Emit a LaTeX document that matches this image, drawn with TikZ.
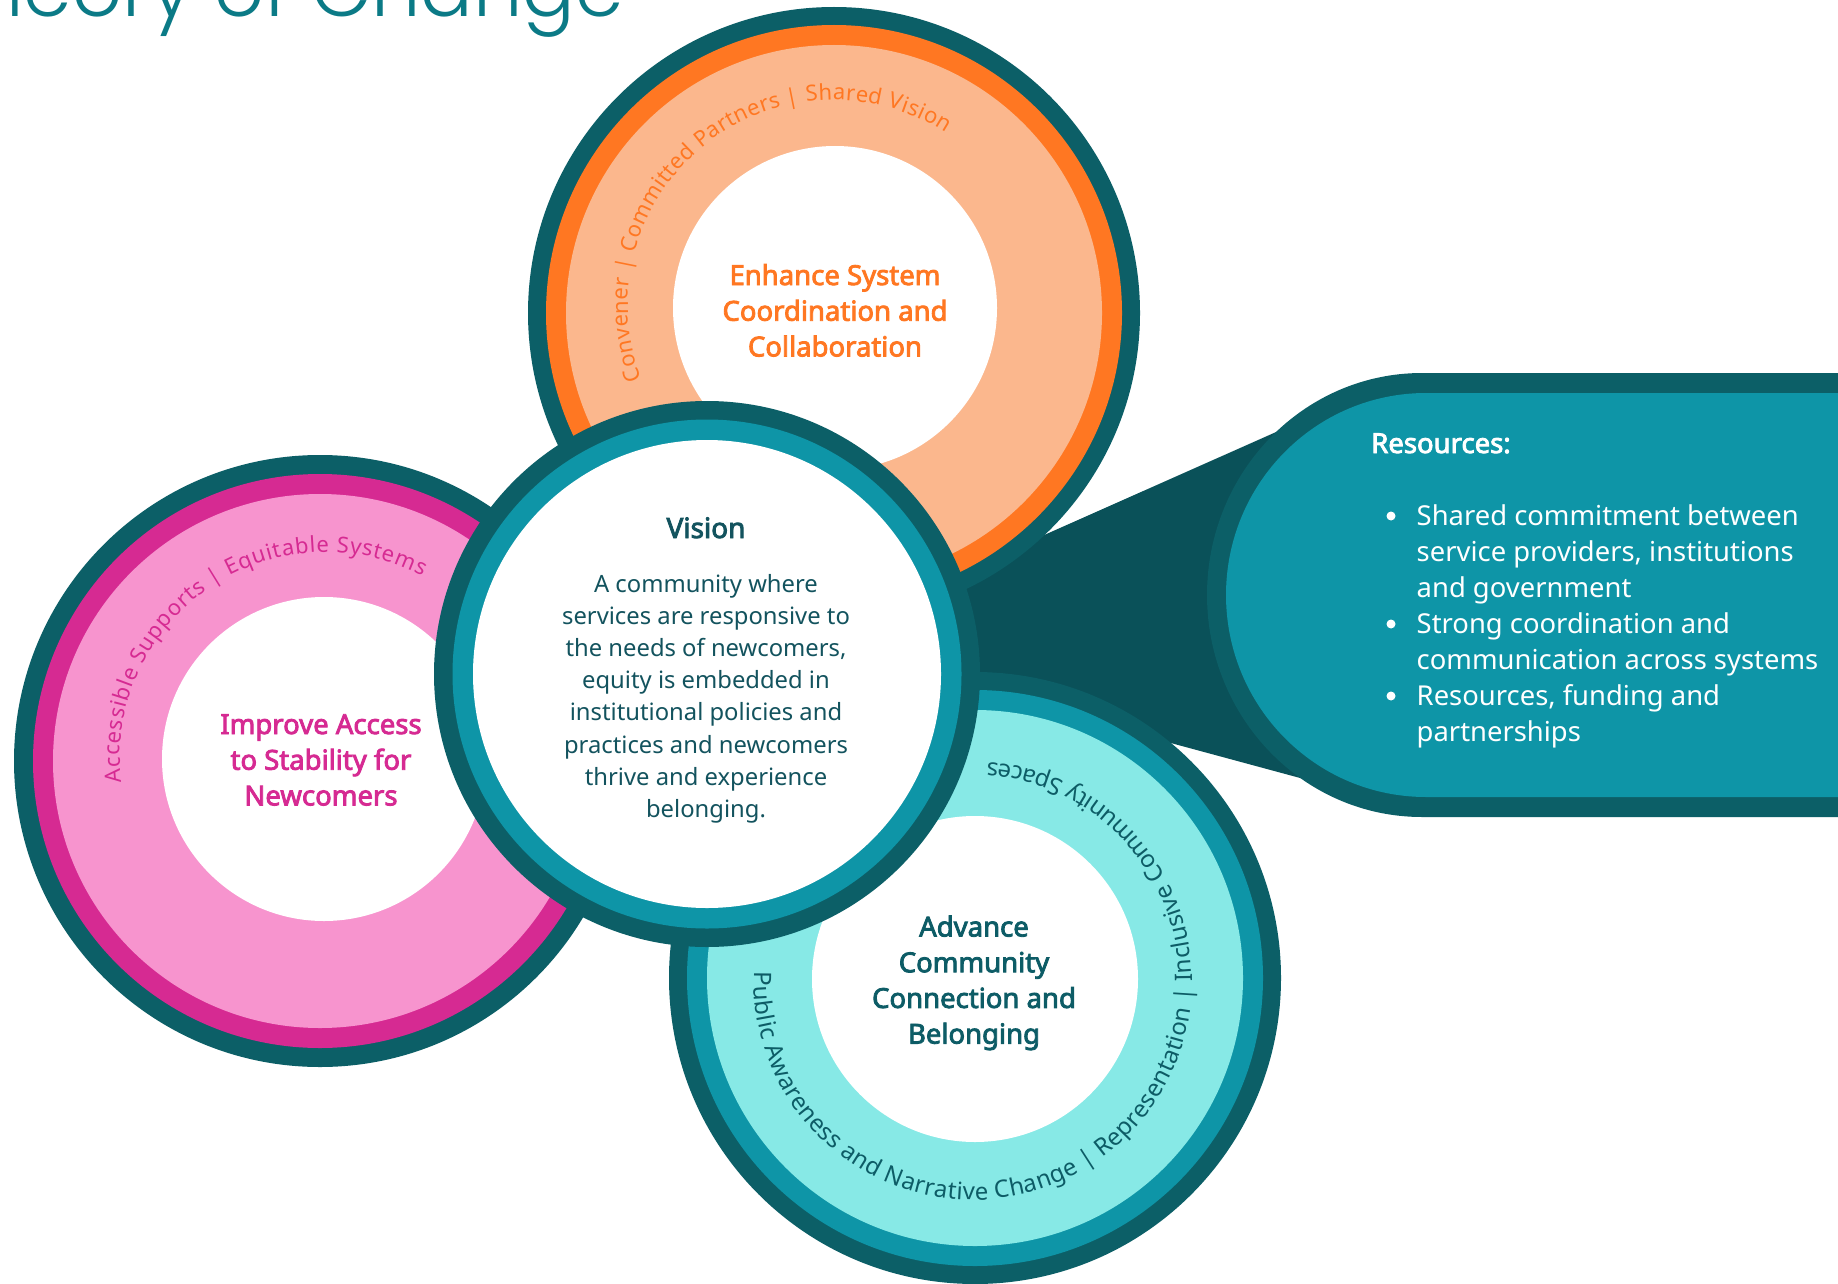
\documentclass[tikz,border=0pt]{standalone}
\usepackage{fontspec}
\setmainfont{Noto Sans}[AutoFakeBold=3]
\IfFontExistsTF{Poppins Light}{\newfontfamily\titlefont{Poppins Light}}{\newfontfamily\titlefont{Poppins}}
\usetikzlibrary{decorations.text}
\definecolor{darkring}{HTML}{0C5F67}
\definecolor{connc}{HTML}{0A5159}
\definecolor{tealmid}{HTML}{0E95A7}
\definecolor{orangec}{HTML}{FF7722}
\definecolor{lorange}{HTML}{FBB78D}
\definecolor{magentac}{HTML}{D62A92}
\definecolor{lpink}{HTML}{F794CE}
\definecolor{aqua}{HTML}{87E9E6}
\definecolor{titlec}{HTML}{0B7A86}
\definecolor{textdark}{HTML}{13535E}
\definecolor{tealtext}{HTML}{0D5C66}
\newcommand{\arcfontA}{\fontsize{22}{22}\selectfont}
\newcommand{\arcfontB}{\fontsize{24}{24}\selectfont}
\begin{document}
\begin{tikzpicture}[x=1pt,y=1pt,
  lbl/.style={anchor=base, inner sep=0pt, font=\bfseries\fontsize{27.5}{35.7}\selectfont},
  body/.style={anchor=base, inner sep=0pt},
  arctext/.style={decorate, decoration={text along path, text align=fit to path, text={#1}}}]
\useasboundingbox (0,0) rectangle (1838,-1284);
\clip (0,0) rectangle (1838,-1284);
\fill[white] (0,0) rectangle (1838,-1284);

% centres
\coordinate (oc) at (834,-313);  \coordinate (oh) at (835,-308); \coordinate (ot) at (834,-306);
\coordinate (pc) at (320,-761);  \coordinate (ph) at (324,-759); \coordinate (pt) at (326,-758);
\coordinate (tc) at (975,-978);  \coordinate (th) at (975,-979); \coordinate (tt) at (973,-981);
\coordinate (vc) at (707,-674);
\coordinate (tip) at (801,-643);
\coordinate (c1) at (1400,-377);
\coordinate (c2) at (1400,-805);

% title
\node[anchor=base east, inner sep=0pt, text=titlec, font=\titlefont\fontsize{78}{78}\selectfont] (title) at (624,-17) {Theory of Change};

% connector wedge
\fill[connc] (tip) -- (c1) -- (c2) -- cycle;

% resources box
\fill[darkring] (1850,-373) -- (1422,-373) arc[start angle=90, end angle=270, x radius=215, y radius=222] -- (1850,-817) -- cycle;
\fill[tealmid] (1850,-393) -- (1426,-393) arc[start angle=90, end angle=270, x radius=200, y radius=202] -- (1850,-797) -- cycle;
\node[anchor=base west, inner sep=0pt, text=white, font=\bfseries\fontsize{27.5}{36}\selectfont] (rtitle) at (1371,-453) {Resources:};
\node[anchor=base west, inner sep=0pt, text=white, font=\fontsize{27.4}{36}\selectfont] (rlist) at (1416.5,-525)
  {\begin{tabular}[t]{@{}l@{}}Shared commitment between\\service providers, institutions\\and government\\Strong coordination and\\communication across systems\\Resources, funding and\\partnerships\end{tabular}};
\fill[white] (1391,-516) circle (4.5);
\fill[white] (1391,-624) circle (4.5);
\fill[white] (1391,-696) circle (4.5);

% orange circle
\fill[darkring] (oc) circle (306);
\fill[orangec] (oc) circle (288);
\fill[lorange] (oc) circle (268);
\fill[white] (oh) circle (162);
\path[arctext={|\arcfontA\color{orangec}|Convener {\textbar} Committed Partners {\textbar} Shared Vision}]
  ([shift={(200.8:206)}]ot) arc[start angle=200.8, end angle=57.1, radius=206];
\node[lbl, text=orangec] (olabel) at (835,-285) {\begin{tabular}[t]{@{}c@{}}Enhance System\\Coordination and\\Collaboration\end{tabular}};

% pink circle
\fill[darkring] (pc) circle (306);
\fill[magentac] (pc) circle (287);
\fill[lpink] (pc) circle (267);
\fill[white] (ph) circle (162);
\path[arctext={|\arcfontA\color{magentac}|Accessible Supports {\textbar} Equitable Systems}]
  ([shift={(186.7:206)}]pt) arc[start angle=186.7, end angle=62, radius=206];
\node[lbl, text=magentac] (plabel) at (321,-734) {\begin{tabular}[t]{@{}c@{}}Improve Access\\to Stability for\\Newcomers\end{tabular}};

% teal circle
\fill[darkring] (tc) circle (306);
\fill[tealmid] (tc) circle (288);
\fill[aqua] (tc) circle (268);
\fill[white] (th) circle (163);
\path[arctext={|\arcfontB\color{tealtext}|Public Awareness and Narrative Change {\textbar} Representation {\textbar} Inclusive Community Spaces}]
  ([shift={(177.6:219)}]tt) arc[start angle=177.6, end angle=446.2, radius=219];
\node[lbl, text=tealtext] (tlabel) at (974,-936.5) {\begin{tabular}[t]{@{}c@{}}Advance\\Community\\Connection and\\Belonging\end{tabular}};

% vision circle
\fill[darkring] (vc) circle (273);
\fill[tealmid] (vc) circle (254.5);
\fill[white] (vc) circle (234);
\node[anchor=base, inner sep=0pt, text=textdark, font=\bfseries\fontsize{28}{30}\selectfont] (vtitle) at (706,-538) {Vision};
\node[body, text=textdark, font=\fontsize{23.8}{32.2}\selectfont] (vbody) at (706,-592)
  {\begin{tabular}[t]{@{}c@{}}A community where\\services are responsive to\\the needs of newcomers,\\equity is embedded in\\institutional policies and\\practices and newcomers\\thrive and experience\\belonging.\end{tabular}};
\end{tikzpicture}
\end{document}
